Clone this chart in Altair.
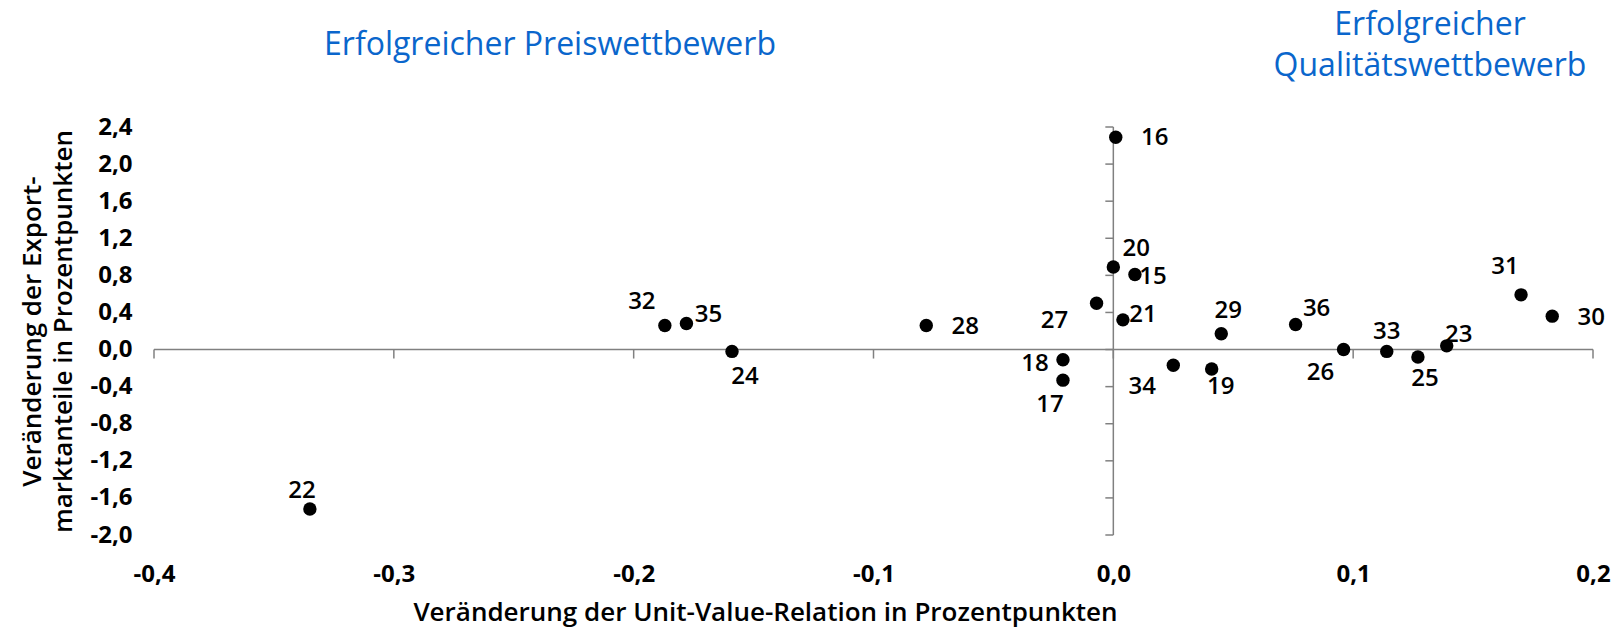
import altair as alt
import pandas as pd

# ---- data ----
labels = ["16", "20", "15", "27", "21", "18", "17", "34", "19", "29", "36",
          "26", "33", "25", "23", "31", "30", "32", "35", "24", "28", "22"]
unit_value = [0.001, 0.000, 0.009, -0.007, 0.004, -0.021, -0.021, 0.025, 0.041, 0.045, 0.076,
              0.096, 0.114, 0.127, 0.139, 0.170, 0.183, -0.187, -0.178, -0.159, -0.078, -0.335]
export_share = [2.29, 0.89, 0.81, 0.50, 0.32, -0.11, -0.33, -0.17, -0.21, 0.17, 0.27,
                0.00, -0.02, -0.08, 0.04, 0.59, 0.36, 0.26, 0.28, -0.02, 0.26, -1.72]

x_ticks = [-0.4, -0.3, -0.2, -0.1, 0.0, 0.1, 0.2]
y_ticks = [-2.0, -1.6, -1.2, -0.8, -0.4, 0.0, 0.4, 0.8, 1.2, 1.6, 2.0, 2.4]

x_title = "Veränderung der Unit-Value-Relation in Prozentpunkten"
y_title = ["Veränderung der Export-", "marktanteile in Prozentpunkten"]
title_price = "Erfolgreicher Preiswettbewerb"
title_quality = ["Erfolgreicher", "Qualitätswettbewerb"]

# label placement (pixel offsets of each label from its point) - styling only
label_offsets = {
    "16": (39, 1), "20": (23, -18), "15": (18, 3), "27": (-42, 18), "21": (20, -5),
    "18": (-28, 4), "17": (-13, 25), "34": (-31, 22), "19": (9, 18), "29": (7, -23),
    "36": (21, -16), "26": (-23, 23), "33": (0, -19), "25": (7, 22), "23": (12, -11),
    "31": (-16, -28), "30": (39, 2), "32": (-23, -23), "35": (22, -9), "24": (13, 26),
    "28": (39, 2), "22": (-8, -18),
}

FONT = "Open Sans"
BLUE = "#0a66cc"
GREY = "#808080"

df = pd.DataFrame({"label": labels, "x": unit_value, "y": export_share})

fmt = "replace(replace(format(datum.value, '.1f'), '.', ','), '\u2212', '-')"

x_scale = alt.Scale(domain=[min(x_ticks), max(x_ticks)], nice=False, zero=False)
y_scale = alt.Scale(domain=[min(y_ticks), max(y_ticks)], nice=False, zero=False)

x_enc = alt.X(
    "x:Q", scale=x_scale,
    axis=alt.Axis(
        values=x_ticks, labelExpr=fmt, domain=False, ticks=False, grid=False,
        labelFlush=False, labelOverlap=False,
        labelPadding=27, labelFontSize=24, labelFont=FONT, labelFontWeight=700,
        labelColor="#000", title=x_title, titleFont=FONT, titleFontSize=26,
        titleFontWeight=600, titleColor="#000", titleX=611, titleY=77,
        titleBaseline="middle", titleAlign="center",
    ),
)
y_enc = alt.Y(
    "y:Q", scale=y_scale,
    axis=alt.Axis(
        values=y_ticks, labelExpr=fmt, domain=False, ticks=False, grid=False,
        labelFlush=False, labelOverlap=False,
        labelPadding=22, labelFontSize=24, labelFont=FONT, labelFontWeight=700,
        labelColor="#000", title=y_title, titleFont=FONT, titleFontSize=26,
        titleFontWeight=600, titleColor="#000", titleX=-122, titleY=204,
        titleAngle=270, titleBaseline="middle", titleAlign="center",
        titleLineHeight=31,
    ),
)

base = alt.Chart(df)

points = base.mark_circle(size=180, color="#000", opacity=1).encode(x=x_enc, y=y_enc)

# axis lines through zero
xline_df = pd.DataFrame({"x": [min(x_ticks)], "x2": [max(x_ticks)], "y": [0.0]})
yline_df = pd.DataFrame({"x": [0.0], "y": [min(y_ticks)], "y2": [max(y_ticks)]})
xline = alt.Chart(xline_df).mark_rule(color=GREY, strokeWidth=1.5).encode(
    x=x_enc, x2="x2:Q", y=y_enc)
yline = alt.Chart(yline_df).mark_rule(color=GREY, strokeWidth=1.5).encode(
    x=x_enc, y=y_enc, y2="y2:Q")

xt_df = pd.DataFrame({"x": x_ticks, "y": [0.0] * len(x_ticks)})
yt_df = pd.DataFrame({"x": [0.0] * len(y_ticks), "y": y_ticks})
xticks = alt.Chart(xt_df).mark_tick(
    orient="vertical", size=9, thickness=1.5, color=GREY, yOffset=4.5, opacity=1
).encode(x=x_enc, y=y_enc)
yticks = alt.Chart(yt_df).mark_tick(
    orient="horizontal", size=8, thickness=1.5, color=GREY, xOffset=-4, opacity=1
).encode(x=x_enc, y=y_enc)

text_layers = []
for lab in labels:
    dx, dy = label_offsets[lab]
    text_layers.append(
        base.transform_filter(alt.datum.label == lab).mark_text(
            dx=dx, dy=dy, align="center", baseline="middle", font=FONT,
            fontSize=24, fontWeight=600, color="#000"
        ).encode(x=x_enc, y=y_enc, text="label:N")
    )

ann_df = pd.DataFrame({"t": [0]})
t1 = alt.Chart(ann_df).mark_text(
    text=title_price, font=FONT, fontSize=32, fontWeight=500, color=BLUE,
    align="center", baseline="middle").encode(x=alt.value(396), y=alt.value(-82))
t2 = alt.Chart(ann_df).mark_text(
    text=title_quality[0], font=FONT, fontSize=32, fontWeight=500, color=BLUE,
    align="center", baseline="middle").encode(x=alt.value(1276), y=alt.value(-102))
t3 = alt.Chart(ann_df).mark_text(
    text=title_quality[1], font=FONT, fontSize=32, fontWeight=500, color=BLUE,
    align="center", baseline="middle").encode(x=alt.value(1276), y=alt.value(-61))

chart = alt.layer(
    xline, yline, xticks, yticks, points, *text_layers, t1, t2, t3
).properties(
    width=1439, height=408,
    autosize=alt.AutoSizeParams(type="none"),
    padding={"left": 146, "top": 119, "right": 18, "bottom": 92},
    background="white",
).configure_view(stroke=None)

chart.save("out.html", embed_options={"renderer": "svg", "actions": False})
